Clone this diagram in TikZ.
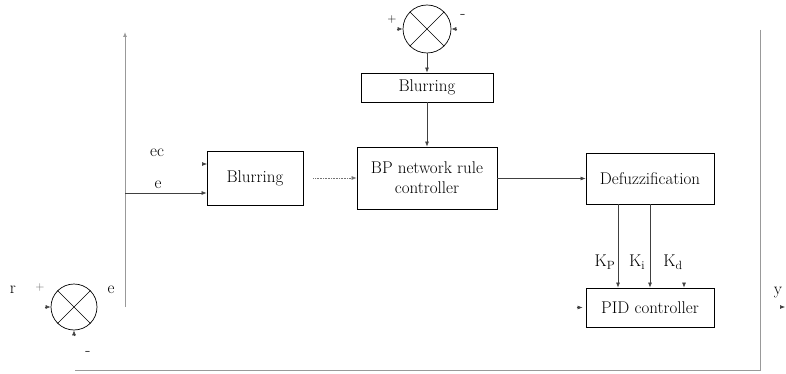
\documentclass[tikz,border=0pt]{standalone}
\usetikzlibrary{arrows.meta,positioning}

\begin{document}
\begin{tikzpicture}[x=1pt,y=-1pt,font=\fontsize{17}{20}\selectfont,
  blk/.style={draw=black,line width=0.9pt,inner sep=0pt},
  sumj/.style={draw=black,line width=0.7pt,circle,inner sep=0pt},
  sig/.style={draw=black!75,line width=0.6pt,-{Latex[length=5pt,width=4pt]}},
  fbk/.style={draw=black!40,line width=0.9pt},
  lbl/.style={inner sep=0pt},
  sgn/.style={inner sep=0pt,font=\fontsize{12}{14}\selectfont}]
\useasboundingbox (0,0) rectangle (786,374);
% blocks
\node[blk,minimum width=132pt,minimum height=29pt] (blurT) at (427,87.5) {Blurring};
\node[blk,minimum width=140pt,minimum height=62pt,align=center] (bp) at (427,178) {BP network rule\\controller};
\node[blk,minimum width=96pt,minimum height=54pt] (blurL) at (255,178) {Blurring};
\node[blk,minimum width=128pt,minimum height=51pt] (defuzz) at (650,178.5) {Defuzzification};
\node[blk,minimum width=128pt,minimum height=39pt] (pid) at (650,307.5) {PID controller};
% summing junctions
\node[sumj,minimum size=46pt] (sumR) at (74,307) {};
\node[sumj,minimum size=48pt] (sumT) at (427,29) {};
\draw[line width=0.6pt] (sumR.45) -- (sumR.225) (sumR.135) -- (sumR.315);
\draw[line width=0.6pt] (sumT.45) -- (sumT.225) (sumT.135) -- (sumT.315);
% free ends
\coordinate (busB) at (125,307);
\coordinate (busT) at (125,32);
\coordinate (tapE) at (125,193);
\coordinate (ecIn) at (207,164);
\coordinate (fbA) at (760,30);
\coordinate (fbB) at (760,370);
\coordinate (fbC) at (75,370);
\coordinate (yOut) at (786,307);
% labels
\node[lbl] (rL) at (13,290) {r};
\node[sgn,text=black!60] (plusR) at (40,288) {+};
\node[lbl] (eR) at (111,290) {e};
\node[lbl] (minusR) at (88,353) {-};
\node[sgn] (plusT) at (392,20) {+};
\node[lbl] (minusT) at (463,16) {-};
\node[lbl] (ecL) at (157,153) {ec};
\node[lbl] (eL) at (158,185) {e};
\node[lbl] (kp) at (605,262) {K\textsubscript{P}};
\node[lbl] (ki) at (637,262) {K\textsubscript{i}};
\node[lbl] (kd) at (673,262) {K\textsubscript{d}};
\node[lbl] (yL) at (778,293) {y};
% connectors
\draw[fbk,-{Latex[length=5pt,width=4pt]}] (busB) -- (busT);
\draw[fbk] (fbA) -- (fbB) -- (fbC);
\draw[sig] (tapE) -- (tapE -| blurL.west);
\draw[sig] ([xshift=-5pt]ecIn) -- (ecIn);
\draw[sig,densely dotted,draw=black!55] ([xshift=10pt]blurL.east) -- (bp.west);
\draw[sig] (sumT.south) -- (blurT.north);
\draw[sig] (blurT.south) -- (bp.north);
\draw[sig] (bp.east |- defuzz.west) -- (defuzz.west);
\draw[sig] ([xshift=-32pt]defuzz.south) -- ([xshift=-32pt]pid.north);
\draw[sig] (defuzz.south) -- (pid.north);
\draw[sig] ([xshift=34pt,yshift=5pt]pid.north) -- ([xshift=34pt]pid.north);
\draw[sig] ([xshift=-9pt]pid.west) -- ([xshift=-3pt]pid.west);
\draw[sig] ([xshift=-6pt]yOut) -- ([xshift=-1pt]yOut);
\draw[sig] ([xshift=-6pt]sumR.west) -- (sumR.west);
\draw[sig] ([yshift=-6pt]sumR.south) -- (sumR.south);
\draw[sig] ([xshift=-6pt]sumT.west) -- (sumT.west);
\draw[sig] ([xshift=6pt]sumT.east) -- (sumT.east);
\end{tikzpicture}
\end{document}
